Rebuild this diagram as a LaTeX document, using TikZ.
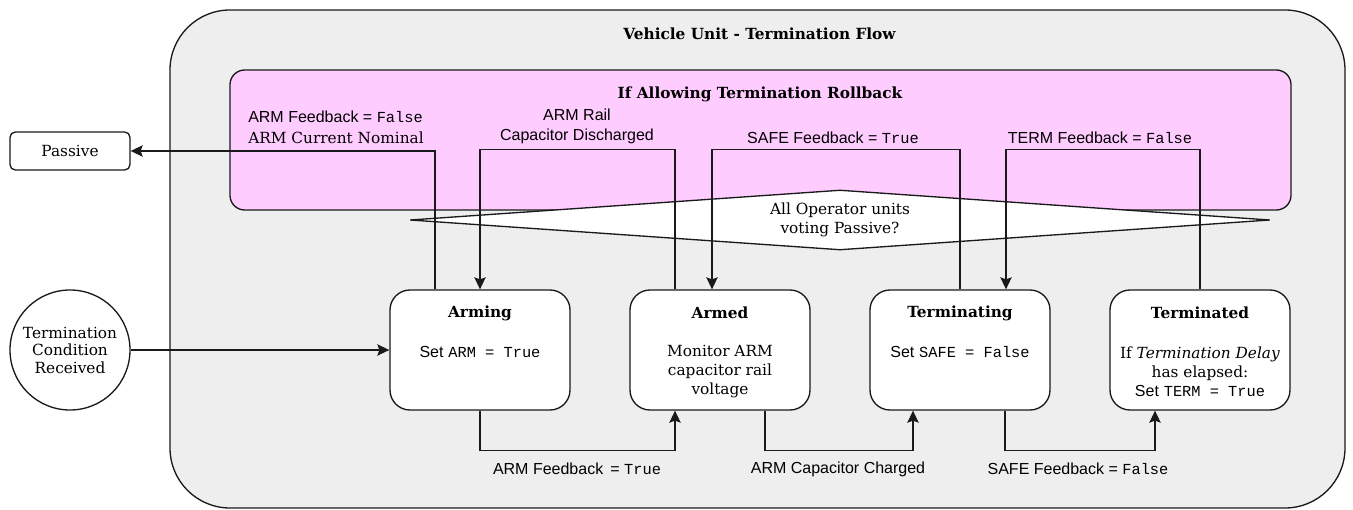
\documentclass[tikz,border=0pt]{standalone}
\usepackage{fontspec}
\setmainfont{DejaVu Serif}
\setsansfont{Liberation Sans}
\setmonofont{Liberation Mono}
\usetikzlibrary{shapes.geometric,arrows.meta,calc}
\definecolor{outerfill}{HTML}{EEEEEE}
\definecolor{pinkfill}{HTML}{FFCCFF}
\definecolor{edgecol}{HTML}{1A1A1A}
\newcommand{\dgserif}{\fontsize{11.5pt}{14.6pt}\rmfamily\selectfont}
\newcommand{\dgsans}{\fontsize{12pt}{14.6pt}\sffamily\selectfont}
\newcommand{\dgmono}{\fontsize{11.5pt}{14.6pt}\ttfamily\selectfont}
\begin{document}
\begin{tikzpicture}[x=0.75pt,y=-0.75pt,
  container/.style={draw=edgecol, line width=1pt, fill=outerfill, rounded corners=45pt, inner sep=0pt},
  pinkbox/.style={draw=edgecol, line width=1pt, fill=pinkfill, rounded corners=11pt, inner sep=0pt},
  stbox/.style={draw=edgecol, line width=1pt, fill=white, rounded corners=15pt, inner sep=0pt, minimum width=135pt, minimum height=90pt},
  decision/.style={draw=edgecol, line width=1pt, fill=white, diamond, aspect=14.33, inner sep=0pt, minimum width=645pt, minimum height=45pt, align=center, font=\dgserif},
  smallbox/.style={draw=edgecol, line width=1pt, fill=white, rounded corners=4pt, inner sep=0pt, minimum width=90pt, minimum height=28.5pt, font=\dgserif},
  eventcirc/.style={draw=edgecol, line width=1pt, fill=white, circle, inner sep=0pt, minimum size=90pt, align=center, font=\dgserif},
  sttitle/.style={font=\dgserif\bfseries, inner sep=0pt},
  stbody/.style={font=\dgserif, align=center, inner sep=0pt},
  lbl/.style={font=\dgsans, inner sep=0pt, align=center},
  arr/.style={draw=edgecol, line width=1pt, -{Stealth[length=9pt,width=8.5pt,inset=1.5pt]}},
  ln/.style={draw=edgecol, line width=1pt}
]
\useasboundingbox (0,0) rectangle (1353,510);

% containers
\node[container, minimum width=881.25pt, minimum height=373.5pt] (outer) at (757.5,259) {};
\node[sttitle] (outerT) at (759.5,34) {Vehicle Unit - Termination Flow};
\node[pinkbox, minimum width=795.75pt, minimum height=105pt] (pink) at (760.5,140) {};
\node[sttitle] (pinkT) at (760,94) {If Allowing Termination Rollback};

% decision
\node[decision] (vote) at (840,220) {All Operator units\\voting Passive?};

% external nodes
\node[smallbox] (passive) at (70,151) {Passive};
\node[eventcirc] (cond) at (70,350) {Termination\\[-1.5pt]Condition\\[-1.5pt]Received};

% states
\path (480,350) coordinate (armingC) (720,350) coordinate (armedC)
      (960,350) coordinate (termingC) (1200,350) coordinate (termedC);
\node[stbox] (arming) at (armingC) {};
\node[stbox] (armed) at (armedC) {};
\node[stbox] (terming) at (termingC) {};
\node[stbox] (termed) at (termedC) {};

% connectors: rollback
\draw[arr] ($(arming.north)+(-45,0)$) |- (passive.east);
\draw[arr] ($(armed.north)+(-45,0)$) -- ++(0,-140) -| (arming.north);
\draw[arr] (terming.north) -- ++(0,-140) -| ($(armed.north)+(-8,0)$);
\draw[arr] (termed.north) -- ++(0,-140) -| ($(terming.north)+(46,0)$);

% connectors: forward
\draw[arr] (cond.east) -- (arming.west);
\draw[arr] (arming.south) -- ++(0,40) -| ($(armed.south)+(-45,0)$);
\draw[arr] ($(armed.south)+(45,0)$) -- ++(0,40) -| ($(terming.south)+(-47,0)$);
\draw[arr] ($(terming.south)+(45,0)$) -- ++(0,40) -| ($(termed.south)+(-45,0)$);

% state texts
\node[sttitle] (armingT) at (480,313) {Arming};
\node[stbody] (armingB) at (480,352) {{\dgsans Set} {\dgmono ARM = True}};
\node[sttitle] (armedT) at (720,313) {Armed};
\node[stbody] (armedB) at (720,371.5) {Monitor ARM\\[-0.5pt]capacitor rail\\[-0.5pt]voltage};
\node[sttitle] (termingT) at (960,313) {Terminating};
\node[stbody] (termingB) at (960,352) {{\dgsans Set} {\dgmono SAFE = False}};
\node[sttitle] (termedT) at (1200,313) {Terminated};
\node[stbody] (termedB) at (1200,371.5) {If \textit{Termination Delay}\\[-0.5pt]has elapsed:\\[-0.5pt]{\dgsans Set} {\dgmono TERM = True}};

% top labels
\node[lbl, anchor=west] (lblA1) at (248,117) {ARM Feedback = {\dgmono False}};
\node[font=\dgserif, inner sep=0pt, anchor=west] (lblA2) at (248,138) {ARM Current Nominal};
\node[lbl] (lblB) at (577,126.5) {ARM Rail\\Capacitor Discharged};
\node[lbl] (lblC) at (833,138) {SAFE Feedback = {\dgmono True}};
\node[lbl] (lblD) at (1100,138) {TERM Feedback = {\dgmono False}};

% bottom labels
\node[lbl] (lblE) at (577,469) {ARM Feedback \,= {\dgmono True}};
\node[lbl] (lblF) at (838,469) {ARM Capacitor Charged};
\node[lbl] (lblG) at (1078,469) {SAFE Feedback = {\dgmono False}};
\end{tikzpicture}
\end{document}
